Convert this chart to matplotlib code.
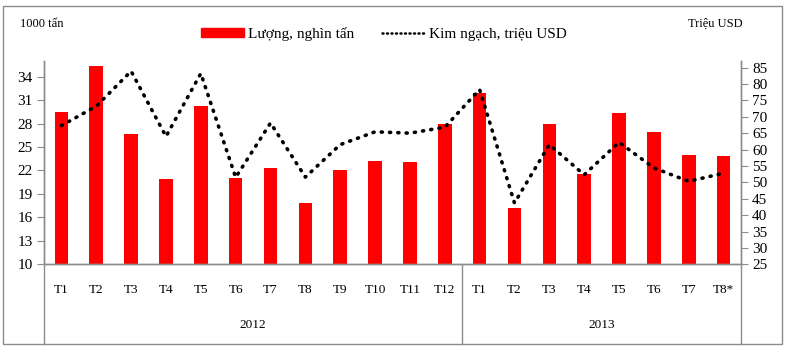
import numpy as np
import matplotlib
matplotlib.use("Agg")
import matplotlib.pyplot as plt
from matplotlib.patches import Rectangle
from matplotlib.lines import Line2D

# data
# -------------------------------------------------------------------------------------
months = ["T1", "T2", "T3", "T4", "T5", "T6", "T7", "T8", "T9", "T10", "T11", "T12",
          "T1", "T2", "T3", "T4", "T5", "T6", "T7", "T8*"]
years = ["2012", "2013"]
year_len = [12, 8]

volume = [29.5, 35.3, 26.7, 20.9, 30.2, 21.1, 22.3, 17.8, 22.1, 23.2, 23.1, 27.9,
          31.9, 17.2, 27.9, 21.5, 29.4, 26.9, 24.0, 23.9]          # 1000 tan
value = [67.3, 73.2, 83.9, 64.0, 83.2, 51.5, 68.1, 51.6, 61.5, 65.4, 65.0, 66.8,
         78.3, 43.7, 61.5, 52.3, 62.2, 54.4, 50.3, 52.8]           # trieu USD

left_ticks = [10, 13, 16, 19, 22, 25, 28, 31, 34]
right_ticks = [25, 30, 35, 40, 45, 50, 55, 60, 65, 70, 75, 80, 85]

plt.rcParams["font.family"] = ["Liberation Serif", "DejaVu Serif"]
grey = "#8c8c8c"
dots = (0, (0.3, 2.0))

W, H = 786, 349
fig = plt.figure(figsize=(W / 100, H / 100), dpi=100)

# axes placed in pixel terms
x0, x1 = 44, 741
ytop, ybot, ytable = 61, 264.3, 344
ax = fig.add_axes([x0 / W, 1 - ybot / H, (x1 - x0) / W, (ybot - ytop) / H])
ax2 = ax.twinx()

x = np.arange(len(months))
ax.bar(x, volume, width=0.39, color="#ff0000", zorder=2)
ax2.plot(x, value, color="black", lw=2.6, linestyle=dots,
         dash_capstyle="round", zorder=3)

ax.set_xlim(-0.5, len(months) - 0.5)
ax.set_ylim(10, 36)
ax2.set_ylim(25, 87)
ax.set_yticks(left_ticks)
ax2.set_yticks(right_ticks)

for a in (ax, ax2):
    for s in a.spines.values():
        s.set_color(grey)
        s.set_linewidth(1)
    a.spines["top"].set_visible(False)
ax.tick_params(axis="y", direction="out", length=5, color=grey, labelsize=11, pad=3)
ax2.tick_params(axis="y", direction="out", length=5, color=grey, labelsize=11, pad=3)
ax.set_xticks(x, months)
ax.tick_params(axis="x", length=0, labelsize=9.5, pad=14)

# category table below the plot
tr = ax.get_xaxis_transform()
ybottom = (ybot - ytable) / (ybot - ytop)
start = 0
for yr, n in zip(years, year_len):
    ax.text(start + (n - 1) / 2, (ybot - 325) / (ybot - ytop), yr, transform=tr,
            ha="center", va="center", fontsize=9.5)
    start += n
edges = [-0.5] + list(np.cumsum(year_len) - 0.5)
for e in edges:
    ax.add_line(Line2D([e, e], [0, ybottom], transform=tr, color=grey, lw=1,
                       clip_on=False))

# outer frame
fig.add_artist(Rectangle((3 / W, 1 - 344 / H), 779 / W, 338 / H, transform=fig.transFigure,
                         fill=False, edgecolor=grey, lw=1))

fig.text(20 / W, 1 - 24 / H, "1000 tấn", fontsize=9, va="center")
fig.text(688 / W, 1 - 24 / H, "Triệu USD", fontsize=9, va="center")

handles = [Rectangle((0, 0), 1, 1, color="#ff0000"),
           Line2D([], [], color="black", lw=1.8, linestyle=(0, (0.4, 1.4)),
                  dash_capstyle="round")]
fig.legend(handles, ["Lượng, nghìn tấn", "Kim ngạch, triệu USD"], ncol=2,
           loc="center", bbox_to_anchor=(384 / W, 1 - 34 / H), frameon=False,
           fontsize=11, handlelength=2.8, handleheight=0.45, handletextpad=0.3,
           columnspacing=1.8)

fig.savefig("out.png", dpi=100)
